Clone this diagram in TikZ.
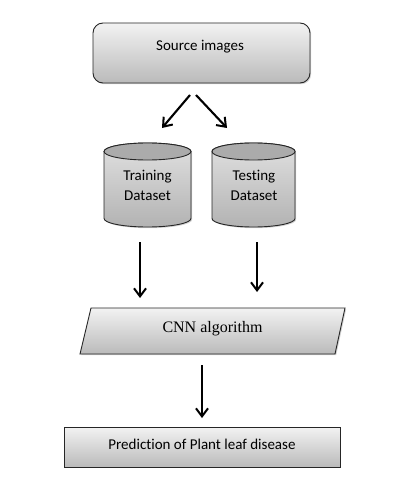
\documentclass[tikz,border=0pt]{standalone}
\usepackage{fontspec}
\setmainfont{Carlito}[Ligatures=NoCommon]
\newfontfamily\timesf{Liberation Serif}
\usetikzlibrary{arrows.meta,shadows}
\tikzset{
  boxline/.style={draw=black!85, line width=0.9pt},
  gradfill/.style={top color=white!95!black, bottom color=black!27},
  shadowed/.style={drop shadow={opacity=0.35, shadow xshift=1.2pt, shadow yshift=-1.2pt}},
  arr/.style={-{Straight Barb[length=8pt,width=12pt,line width=2pt]}, line width=2.1pt, black},
  lbl/.style={font=\fontsize{15}{18}\selectfont, align=center, inner sep=0pt},
}
\begin{document}
\begin{tikzpicture}[x=1pt,y=-1pt]
\useasboundingbox (0,0) rectangle (407,492);
% Source images
\draw[boxline, gradfill, shadowed, rounded corners=10pt] (93,23) rectangle (310,83);
\node[lbl] (src) at (200,47) {Source images};
\coordinate (srcL) at (190,95);
\coordinate (srcR) at (196,95);
% cylinders
\foreach \cx/\rx in {147.5/43.5, 253.5/41.5}{
  \path[shadowed, fill=black!25] (\cx-\rx,151.5) -- (\cx-\rx,218.5) arc[start angle=180,end angle=360,x radius=\rx,y radius=-8.5] -- (\cx+\rx,151.5) arc[start angle=0,end angle=180,x radius=\rx,y radius=-8.5] -- cycle;
  \draw[boxline, top color=black!12, bottom color=black!30] (\cx-\rx,151.5) -- (\cx-\rx,218.5) arc[start angle=180,end angle=360,x radius=\rx,y radius=-8.5] -- (\cx+\rx,151.5) arc[start angle=0,end angle=180,x radius=\rx,y radius=-8.5] -- cycle;
  \draw[boxline, fill=black!33] (\cx,151.5) ellipse[x radius=\rx, y radius=8.5];
}
\node[lbl] (train) at (147.5,185) {Training\\[2pt]Dataset};
\node[lbl] (test) at (254,185) {Testing\\[2pt]Dataset};
\coordinate (trainT) at (162,128);
\coordinate (testT) at (227,128);
\draw[arr] (srcL) -- (trainT);
\draw[arr] (srcR) -- (testT);
% CNN
\draw[boxline, gradfill, shadowed] (80,354) -- (91,308) -- (345,308) -- (335,354) -- cycle;
\node[inner sep=0pt, font=\timesf\fontsize{16}{19}\selectfont] (cnn) at (212.5,329) {CNN algorithm};
\coordinate (trainB) at (140,242);
\coordinate (cnnL) at (140,298);
\coordinate (testB) at (257,242);
\coordinate (cnnR) at (257,292);
\draw[arr] (trainB) -- (cnnL);
\draw[arr] (testB) -- (cnnR);
% Prediction
\draw[boxline, gradfill, shadowed] (64,427) rectangle (340,467);
\node[lbl] (pred) at (202,444) {Prediction of Plant leaf disease};
\coordinate (cnnB) at (202,365);
\coordinate (predT) at (202,418);
\draw[arr] (cnnB) -- (predT);
\end{tikzpicture}
\end{document}
